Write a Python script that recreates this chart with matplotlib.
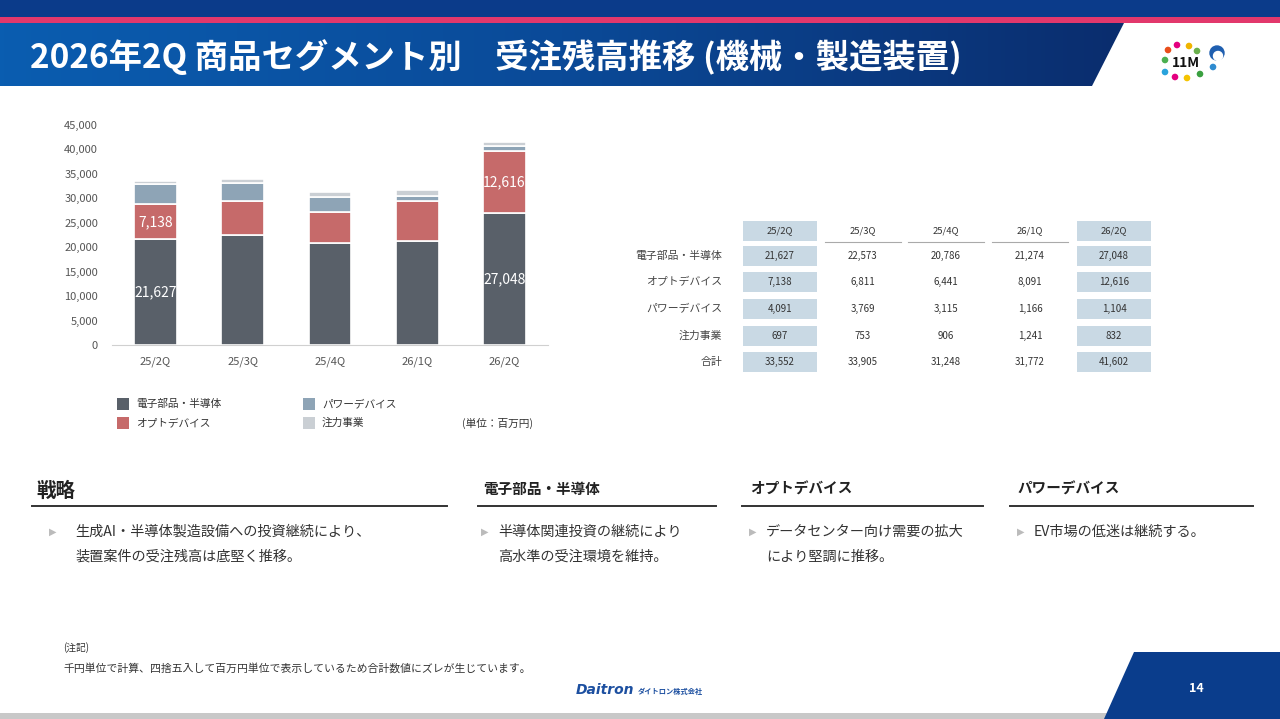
import numpy as np
import matplotlib.pyplot as plt
from matplotlib.patches import Polygon, Rectangle, Circle
from matplotlib.colors import LinearSegmentedColormap

plt.rcParams['font.family'] = ['Noto Sans CJK JP', 'DejaVu Sans']

# data
quarters = ["25/2Q", "25/3Q", "25/4Q", "26/1Q", "26/2Q"]
semi = [21627, 22573, 20786, 21274, 27048]
opto = [7138, 6811, 6441, 8091, 12616]
power = [4091, 3769, 3115, 1166, 1104]
focus = [697, 753, 906, 1241, 832]
total = [33552, 33905, 31248, 31772, 41602]
series_names = ["電子部品・半導体", "オプトデバイス", "パワーデバイス", "注力事業"]
colors = ["#596069", "#c66a6a", "#8ea4b6", "#cacfd4"]
yticks = [0, 5000, 10000, 15000, 20000, 25000, 30000, 35000, 40000, 45000]

W, H = 1280, 719
fig = plt.figure(figsize=(12.8, 7.19), dpi=100)

# background layer in pixel coords
bg = fig.add_axes([0, 0, 1, 1])
bg.set_xlim(0, W)
bg.set_ylim(H, 0)
bg.axis("off")

bg.add_patch(Rectangle((0, 0), W, 17, color="#0b3b8a", lw=0))
bg.add_patch(Rectangle((0, 17), W, 6, color="#e2386c", lw=0))
band = Polygon([(0, 23), (1124, 23), (1092, 86), (0, 86)], closed=True, fc="none", ec="none")
bg.add_patch(band)
grad = np.linspace(0, 1, 256).reshape(1, -1)
cm = LinearSegmentedColormap.from_list("hdr", ["#0a5db0", "#0a4a98", "#0b2d6e"])
im = bg.imshow(grad, extent=(0, 1124, 86, 23), aspect="auto", cmap=cm, zorder=1)
im.set_clip_path(band)
bg.text(30, 57, "2026年2Q 商品セグメント別　受注残高推移 (機械・製造装置)",
        color="white", fontsize=24, fontweight="bold", va="center", ha="left", zorder=3)

# logo
dots = [(1168, 50, "#e94e1b"), (1177, 45, "#e4007f"), (1189, 46, "#f0b400"), (1165, 60, "#4caf50"),
        (1165, 72, "#29a3dc"), (1175, 77, "#e4007f"), (1187, 78, "#f5c400"), (1200, 74, "#3aa040"),
        (1213, 67, "#2e8bd0"), (1197, 51, "#6ab04c")]
for x, y, c in dots:
    bg.add_patch(Circle((x, y), 3.3, color=c, lw=0))
bg.text(1186, 63, "11M", fontsize=10, fontweight="bold", ha="center", va="center", color="#111111")
bg.add_patch(Circle((1217, 53), 7, fc="#1f5fb0", ec="#1f5fb0"))
bg.add_patch(Circle((1218, 56), 4.5, fc="white", ec="white"))

# footer
bg.add_patch(Rectangle((0, 713), 1110, 6, color="#c8c8c8", lw=0))
bg.add_patch(Polygon([(1134, 652), (W, 652), (W, H), (1104, H)], closed=True, color="#0a3d8c", lw=0))
bg.text(1196, 689, "14", color="white", fontsize=9, fontweight="bold", ha="center", va="center")
bg.text(576, 690, "Daitron", color="#1c4fa0", fontsize=10, fontweight="bold", style="italic",
        ha="left", va="center", family="DejaVu Sans")
bg.text(638, 691, "ダイトロン株式会社", color="#1c4fa0", fontsize=5.2, fontweight="bold", ha="left", va="center")
bg.text(63, 648, "(注記)", fontsize=7, color="#333333", ha="left", va="center")
bg.text(63, 668, "千円単位で計算、四捨五入して百万円単位で表示しているため合計数値にズレが生じています。",
        fontsize=7.8, color="#333333", ha="left", va="center")

# chart
ax = fig.add_axes([112 / W, 1 - 345 / H, 436 / W, 220 / H])
x = np.arange(len(quarters))
bottom = np.zeros(len(quarters))
for vals, c in zip([semi, opto, power, focus], colors):
    ax.bar(x, vals, 0.49, bottom=bottom, color=c, edgecolor="white", linewidth=1.2, zorder=2)
    bottom += np.array(vals)
for i in [0, 4]:
    ax.text(x[i], semi[i] / 2, f"{semi[i]:,}", color="white", fontsize=10, ha="center", va="center", zorder=3)
    ax.text(x[i], semi[i] + opto[i] / 2, f"{opto[i]:,}", color="white", fontsize=10, ha="center", va="center", zorder=3)
ax.set_xlim(-0.5, 4.5)
ax.set_ylim(0, 45000)
ax.set_yticks(yticks)
ax.set_yticklabels([f"{v:,}" for v in yticks])
ax.set_xticks(x)
ax.set_xticklabels(quarters)
for s in ["top", "right", "left"]:
    ax.spines[s].set_visible(False)
ax.spines["bottom"].set_color("#d0d0d0")
ax.tick_params(length=0, labelsize=8, labelcolor="#555555", pad=10)
ax.tick_params(axis="x", pad=8)

# legend
leg_pos = [(117, 404), (117, 423), (303, 404), (303, 423)]
for (lx, ly), name, c in zip(leg_pos, series_names, colors):
    bg.add_patch(Rectangle((lx, ly - 6), 12, 12, color=c, lw=0))
    bg.text(lx + 19, ly, name, fontsize=7.7, color="#333333", ha="left", va="center")
bg.text(462, 423, "(単位：百万円)", fontsize=7.7, color="#333333", ha="left", va="center")

# table
col_x = [780, 863, 946, 1030, 1114]
row_y = [256, 282, 309, 336, 362]
row_names = series_names + ["合計"]
rows = [semi, opto, power, focus, total]
for j, q in enumerate(quarters):
    if j in (0, 4):
        bg.add_patch(Rectangle((col_x[j] - 37, 221), 74, 20, color="#c9d9e4", lw=0))
    else:
        bg.plot([col_x[j] - 38, col_x[j] + 38], [242, 242], color="#aaaaaa", lw=0.8)
    bg.text(col_x[j], 231, q, fontsize=6.8, ha="center", va="center", color="#333333")
for i, (name, vals) in enumerate(zip(row_names, rows)):
    bg.text(722, row_y[i], name, fontsize=7.8, ha="right", va="center", color="#444444")
    for j, v in enumerate(vals):
        if j in (0, 4):
            bg.add_patch(Rectangle((col_x[j] - 37, row_y[i] - 10), 74, 20, color="#c9d9e4", lw=0))
        bg.text(col_x[j], row_y[i], f"{v:,}", fontsize=7, ha="center", va="center", color="#333333")

# bottom text blocks
bg.text(36, 491, "戦略", fontsize=14, fontweight="bold", ha="left", va="center", color="#222222")
bg.plot([32, 447], [506, 506], color="#333333", lw=1.4)
heads = [("電子部品・半導体", 483, 478, 716), ("オプトデバイス", 750, 742, 983), ("パワーデバイス", 1018, 1010, 1253)]
for t, tx, l0, l1 in heads:
    bg.text(tx, 489, t, fontsize=10.5, fontweight="bold", ha="left", va="center", color="#222222")
    bg.plot([l0, l1], [506, 506], color="#333333", lw=1.4)

bullets = [
    (53, 75, ["生成AI・半導体製造設備への投資継続により、", "装置案件の受注残高は底堅く推移。"]),
    (485, 498, ["半導体関連投資の継続により", "高水準の受注環境を維持。"]),
    (753, 766, ["データセンター向け需要の拡大", "により堅調に推移。"]),
    (1021, 1034, ["EV市場の低迷は継続する。"]),
]
for bx, tx, lines in bullets:
    bg.text(bx, 532, "▶", fontsize=7, color="#bbbbbb", ha="center", va="center", family="DejaVu Sans")
    for k, ln in enumerate(lines):
        bg.text(tx, 532 + 25 * k, ln, fontsize=10.2, color="#333333", ha="left", va="center")

fig.savefig("out.png", dpi=100)
